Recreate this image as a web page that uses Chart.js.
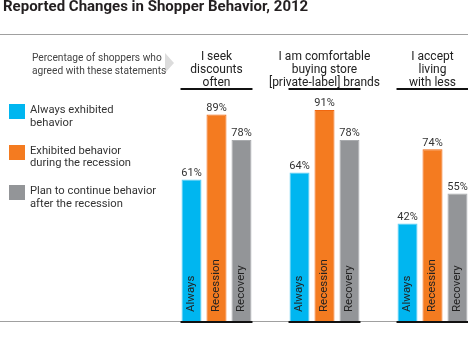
<!DOCTYPE html>
<html>
<head>
<meta charset="utf-8">
<script src="https://cdn.jsdelivr.net/npm/chart.js@4"></script>
<style>
    body { margin: 0; background: #fff; font-family: Roboto, sans-serif; color: #333; }
    #wrap { position: relative; width: 468px; height: 339px; overflow: hidden; }
    #chart { position: absolute; left: 0; top: 0; }
    #title { position: absolute; left: 3px; top: -3px; font-size: 15px; font-weight: bold; color: #231f20; white-space: nowrap; }
    #note { position: absolute; left: 32px; top: 51px; font-size: 10.2px; line-height: 13px; color: #444; }
    .head { position: absolute; top: 50px; width: 130px; margin-left: -65px; text-align: center; font-size: 12px; line-height: 12.8px; color: #222; }
    .leg { position: absolute; left: 9px; }
    .leg .sw { position: absolute; left: 0; top: 0; width: 16px; height: 15px; }
    .leg .tx { position: absolute; left: 21px; top: 0; font-size: 11.2px; line-height: 12.7px; white-space: nowrap; color: #333; }
</style>
</head>
<body>
<div id="wrap">
    <canvas id="chart" width="468" height="339"></canvas>
    <div id="title">Reported Changes in Shopper Behavior, 2012</div>
    <div id="note">Percentage of shoppers who<br>agreed with these statements</div>
</div>
<script>
// statements (group headers)
const statements = [
    ['I seek', 'discounts', 'often'],
    ['I am comfortable', 'buying store', '[private-label] brands'],
    ['I accept', 'living', 'with less']
];
// legend text, one entry per series
const seriesNames = [
    ['Always exhibited', 'behavior'],
    ['Exhibited behavior', 'during the recession'],
    ['Plan to continue behavior', 'after the recession']
];
const barLabels = ['Always', 'Recession', 'Recovery'];
const always = [61, 64, 42];
const recession = [89, 91, 74];
const recovery = [78, 78, 55];

const colors = ['#00b6f0', '#f47b20', '#939598'];
const edges = ['#5fcdf3', '#f0670f', '#a9abae'];

const wrap = document.getElementById('wrap');

// legend
seriesNames.forEach((name, i) => {
    const item = document.createElement('div');
    item.className = 'leg';
    item.style.top = (104 + i * 40.5) + 'px';
    const sw = document.createElement('div');
    sw.className = 'sw';
    sw.style.background = colors[i];
    const tx = document.createElement('div');
    tx.className = 'tx';
    tx.innerHTML = name.join('<br>');
    item.appendChild(sw);
    item.appendChild(tx);
    wrap.appendChild(item);
});

const decor = {
    id: 'decor',
    beforeDatasetsDraw(chart) {
        const c = chart.ctx;
        const area = chart.chartArea;
        c.save();
        // top rule
        c.fillStyle = '#a0a0a0';
        c.fillRect(0, 34, 468, 1);
        // arrow
        c.fillStyle = '#dcdcdc';
        c.beginPath();
        c.moveTo(165, 53);
        c.lineTo(174, 63);
        c.lineTo(165, 73);
        c.closePath();
        c.fill();
        // baseline
        c.fillStyle = '#a0a0a0';
        c.fillRect(0, area.bottom, 468, 1);
        c.restore();
    },
    afterDatasetsDraw(chart) {
        const c = chart.ctx;
        const area = chart.chartArea;
        c.save();
        // underline under headers and groups
        const first = chart.getDatasetMeta(0).data;
        const last = chart.getDatasetMeta(2).data;
        c.fillStyle = '#111';
        first.forEach((bar, i) => {
            const l = bar.x - bar.width / 2 - 1;
            const r = last[i].x + last[i].width / 2 + 1;
            c.fillRect(l, 88, r - l, 2);
            c.fillRect(l, area.bottom, r - l, 2);
        });
        chart.data.datasets.forEach((ds, d) => {
            chart.getDatasetMeta(d).data.forEach((bar, i) => {
                c.fillStyle = '#333';
                c.font = '11px Roboto';
                c.textAlign = 'center';
                c.textBaseline = 'bottom';
                c.fillText(ds.data[i] + '%', bar.x, bar.y - 1);
                c.save();
                c.translate(bar.x, bar.base - 9);
                c.rotate(-Math.PI / 2);
                c.fillStyle = '#222';
                c.font = '11.5px Roboto';
                c.textAlign = 'left';
                c.textBaseline = 'middle';
                c.fillText(barLabels[d], 0, 0);
                c.restore();
            });
        });
        c.restore();
    }
};

const chart = new Chart(document.getElementById('chart'), {
    type: 'bar',
    data: {
        labels: statements.map(s => s.join(' ')),
        datasets: [always, recession, recovery].map((vals, i) => ({
            label: barLabels[i],
            data: vals,
            backgroundColor: colors[i],
            borderColor: edges[i],
            borderWidth: 1,
            borderSkipped: 'bottom',
            clip: false
        }))
    },
    options: {
        responsive: false,
        animation: false,
        layout: { padding: { left: 216.5, right: 35.5, top: 89, bottom: 18 } },
        categoryPercentage: 0.694,
        barPercentage: 0.8,
        scales: {
            x: { display: false, offset: false },
            y: { display: false, min: 0, max: 100 }
        },
        plugins: { legend: { display: false }, tooltip: { enabled: false } }
    },
    plugins: [decor]
});

// headers centred over each group
statements.forEach((lines, i) => {
    const h = document.createElement('div');
    h.className = 'head';
    h.style.left = chart.scales.x.getPixelForValue(i) + 'px';
    h.innerHTML = lines.join('<br>');
    wrap.appendChild(h);
});
</script>
</body>
</html>
